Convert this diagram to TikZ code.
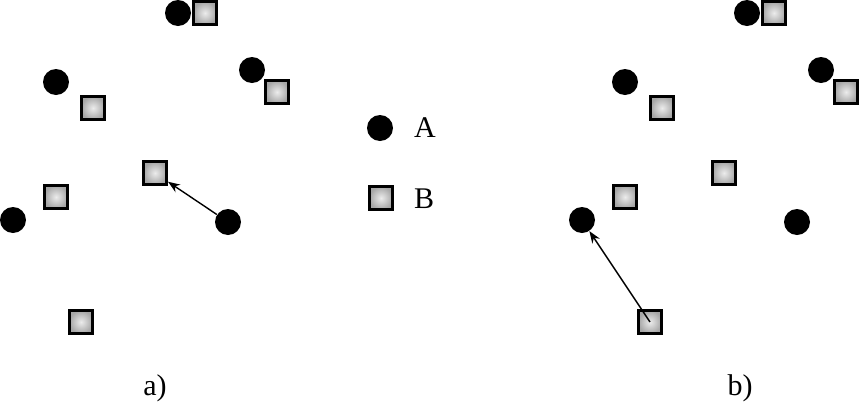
\documentclass[tikz,border=0pt]{standalone}
\usepackage{fontspec}
\setmainfont{Liberation Serif}
\usetikzlibrary{arrows.meta}
\begin{document}
\begin{tikzpicture}[x=0.5pt, y=-0.5pt, >={Stealth[length=6pt,width=4.5pt]},
    ptA/.style={circle, fill=black, minimum size=13pt, inner sep=0pt},
    ptB/.style={rectangle, draw=black, line width=1.4pt, minimum size=11.6pt,
        inner sep=0pt, inner color=gray!15, outer color=gray!70},
    lbl/.style={font=\fontsize{15}{18}\selectfont}]
    \useasboundingbox (0,0) rectangle (859,408);

    \foreach \dx/\p/\lx in {0/a/155, 569/b/171} {
    \begin{scope}[shift={(\dx,0)}]
        \node[ptA] (\p A1) at (178,13) {};
        \node[ptB] (\p B1) at (205,13) {};
        \node[ptA] (\p A2) at (56,82) {};
        \node[ptB] (\p B2) at (93,108) {};
        \node[ptA] (\p A3) at (252,70) {};
        \node[ptB] (\p B3) at (277,92) {};
        \node[ptB] (\p B4) at (155,173) {};
        \node[ptA] (\p A4) at (228,222) {};
        \node[ptB] (\p B5) at (56,197) {};
        \node[ptA] (\p A5) at (13,220) {};
        \node[ptB] (\p B6) at (81,322) {};
        \node[lbl] (\p lab) at (\lx,388) {\p)};
    \end{scope}
    }

    \draw[->, line width=0.7pt] (aA4) -- (aB4);
    \draw[->, line width=0.7pt] (bB6.center) -- (bA5);

    % legend
    \node[ptA] (keyA) at (380,128) {};
    \node[lbl, anchor=west] (txtA) at (407,128) {A};
    \node[ptB] (keyB) at (381,198) {};
    \node[lbl, anchor=west] (txtB) at (407,199) {B};
\end{tikzpicture}
\end{document}
